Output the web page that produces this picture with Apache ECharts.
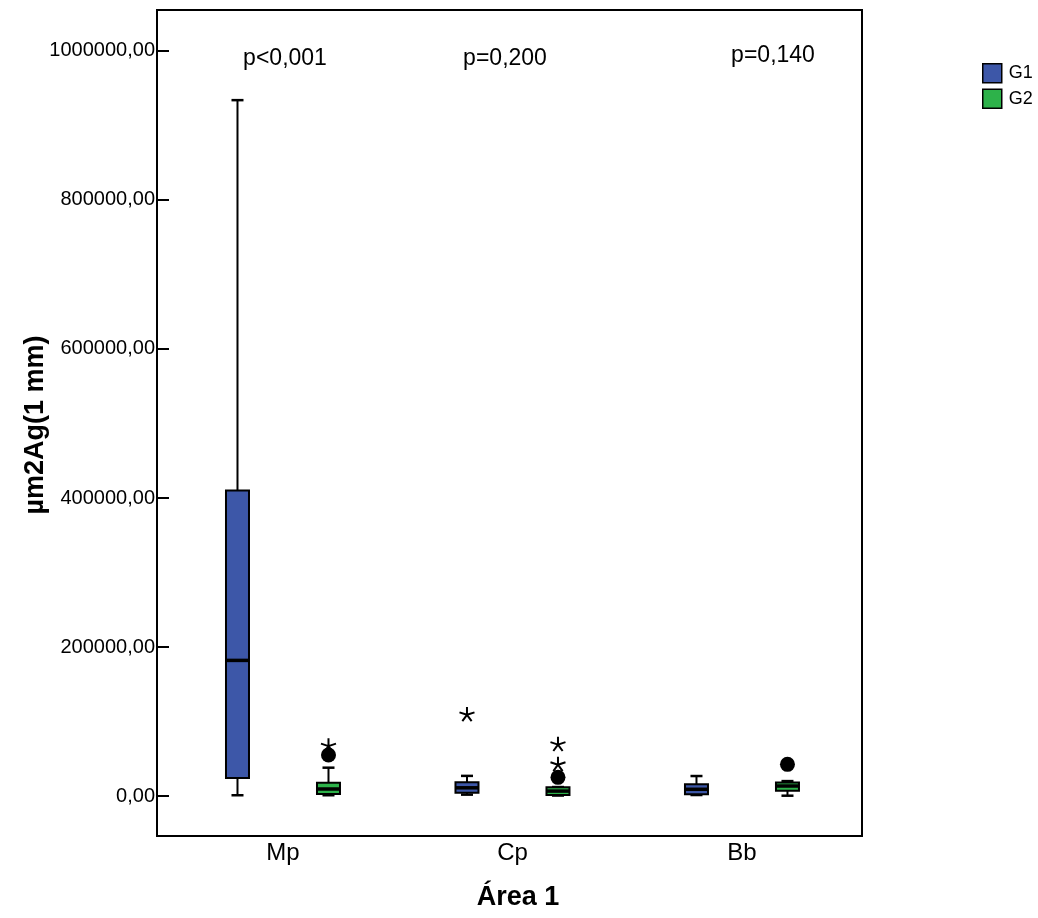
<!DOCTYPE html>
<html>
<head>
<meta charset="utf-8">
<script src="https://cdn.jsdelivr.net/npm/echarts@6/dist/echarts.min.js"></script>
<style>
  html, body { margin: 0; padding: 0; background: #fff; }
  #chart { width: 1038px; height: 918px; }
</style>
</head>
<body>
<div id="chart"></div>
<script>
// Areas on the horizontal axis
const categories = ['Mp', 'Cp', 'Bb'];
const groupNames = ['G1', 'G2'];

// Five-number summaries per area: [min, Q1, median, Q3, max]
const g1Boxes = [
  [1000, 24000, 182000, 410000, 934000],
  [1800, 4400, 11000, 18400, 27000],
  [1300, 2300, 9000, 15700, 26800]
];
const g2Boxes = [
  [1000, 2700, 9400, 17800, 38000],
  [600, 1300, 6600, 11700, 12000],
  [400, 7100, 13400, 18100, 20000]
];

// Outliers: [area index, value]
const g1Circles = [];
const g1Stars = [[1, 110000]];
const g2Circles = [[0, 55000], [1, 25000], [2, 42500]];
const g2Stars = [[0, 68000], [1, 43000], [1, 70000]];

// Significance per area
const pValues = ['p<0,001', 'p=0,200', 'p=0,140'];

// Y tick values
const yTicks = [0, 200000, 400000, 600000, 800000, 1000000];

const BLUE = '#3D57A8';
const GREEN = '#2DB24A';
const GROUP_OFFSET = 45.5;  // px from area centre to each group's box
const BOX_W = 23;
const CAP_W = 12;
const FONT = 'Arial, "Liberation Sans", sans-serif';

const STAR = 'path://M0,-10L0,0M0,0L9.51,-3.09M0,0L5.88,8.09M0,0L-5.88,8.09M0,0L-9.51,-3.09';

function boxRenderer(sign, color) {
  return function (params, api) {
    const i = api.value(0);
    const pt = k => api.coord([i, api.value(k)]);
    const x = pt(1)[0] + sign * GROUP_OFFSET;
    const yMin = pt(1)[1], yQ1 = pt(2)[1], yMed = pt(3)[1], yQ3 = pt(4)[1], yMax = pt(5)[1];
    const line = { stroke: '#000', lineWidth: 2 };
    return {
      type: 'group',
      children: [
        { type: 'line', shape: { x1: x, y1: yMin, x2: x, y2: yQ1 }, style: line },
        { type: 'line', shape: { x1: x, y1: yQ3, x2: x, y2: yMax }, style: line },
        { type: 'line', shape: { x1: x - CAP_W / 2, y1: yMin, x2: x + CAP_W / 2, y2: yMin }, style: { stroke: '#000', lineWidth: 2.5 } },
        { type: 'line', shape: { x1: x - CAP_W / 2, y1: yMax, x2: x + CAP_W / 2, y2: yMax }, style: { stroke: '#000', lineWidth: 2.5 } },
        { type: 'rect', shape: { x: x - BOX_W / 2, y: yQ3, width: BOX_W, height: yQ1 - yQ3 },
          style: { fill: color, stroke: '#000', lineWidth: 2 } },
        { type: 'line', shape: { x1: x - BOX_W / 2, y1: yMed, x2: x + BOX_W / 2, y2: yMed },
          style: { stroke: '#000', lineWidth: 3.5 } }
      ]
    };
  };
}

const withIndex = boxes => boxes.map((b, i) => [i].concat(b));

function outlierSeries(data, sign, symbol, size, isStar) {
  return {
    type: 'scatter',
    name: 'outlier',
    data: data,
    symbol: symbol,
    symbolSize: size,
    symbolKeepAspect: true,
    symbolOffset: [sign * GROUP_OFFSET, 0],
    itemStyle: isStar
      ? { color: 'rgba(0,0,0,0)', borderColor: '#000', borderWidth: 2, opacity: 1 }
      : { color: '#000', opacity: 1 },
    silent: true,
    z: 5
  };
}

const chart = echarts.init(document.getElementById('chart'), null, { renderer: 'canvas' });

chart.setOption({
  animation: false,
  backgroundColor: '#fff',
  grid: {
    left: 157, top: 10, right: 176, bottom: 82,
    show: true, borderColor: '#000', borderWidth: 2, backgroundColor: 'transparent'
  },
  legend: {
    orient: 'vertical',
    left: 982, top: 63,
    padding: 0,
    itemWidth: 19, itemHeight: 19, itemGap: 5,
    icon: 'rect',
    textStyle: { fontSize: 18, color: '#000', fontFamily: FONT, padding: [0, 0, 0, 2] },
    data: [
      { name: groupNames[0], itemStyle: { color: BLUE, borderColor: '#000', borderWidth: 1.5 } },
      { name: groupNames[1], itemStyle: { color: GREEN, borderColor: '#000', borderWidth: 1.5 } }
    ]
  },
  xAxis: {
    type: 'value',
    min: -0.549, max: 2.523,
    axisLine: { show: false, onZero: false },
    axisTick: { show: false },
    splitLine: { show: false },
    axisLabel: {
      customValues: [0, 1, 2],
      formatter: v => categories[Math.round(v)],
      fontSize: 24, color: '#000', fontFamily: FONT, margin: 5
    }
  },
  yAxis: {
    type: 'value',
    min: -53700, max: 1055000,
    axisLine: { show: true, onZero: false, lineStyle: { color: '#000', width: 2 } },
    axisTick: { show: true, inside: true, length: 12, customValues: yTicks, lineStyle: { color: '#000', width: 2 } },
    splitLine: { show: false },
    axisLabel: {
      customValues: yTicks,
      formatter: v => v.toFixed(2).replace('.', ','),
      fontSize: 20, color: '#000', fontFamily: FONT, margin: 2
    }
  },
  graphic: [
    { type: 'text', x: 285, y: 59, style: { text: pValues[0], font: '23px ' + FONT, fill: '#000', textAlign: 'center', textVerticalAlign: 'middle' } },
    { type: 'text', x: 505, y: 59, style: { text: pValues[1], font: '23px ' + FONT, fill: '#000', textAlign: 'center', textVerticalAlign: 'middle' } },
    { type: 'text', x: 773, y: 56, style: { text: pValues[2], font: '23px ' + FONT, fill: '#000', textAlign: 'center', textVerticalAlign: 'middle' } },
    { type: 'text', x: 518, y: 898, style: { text: 'Área 1', font: 'bold 27px ' + FONT, fill: '#000', textAlign: 'center', textVerticalAlign: 'middle' } },
    { type: 'text', x: 36, y: 425, rotation: Math.PI / 2, style: { text: 'µm2Ag(1 mm)', font: 'bold 27px ' + FONT, fill: '#000', textAlign: 'center', textVerticalAlign: 'middle' } }
  ],
  series: [
    {
      type: 'custom', name: groupNames[0],
      itemStyle: { color: BLUE },
      renderItem: boxRenderer(-1, BLUE),
      encode: { x: 0, y: [1, 2, 3, 4, 5] },
      data: withIndex(g1Boxes), z: 3
    },
    {
      type: 'custom', name: groupNames[1],
      itemStyle: { color: GREEN },
      renderItem: boxRenderer(1, GREEN),
      encode: { x: 0, y: [1, 2, 3, 4, 5] },
      data: withIndex(g2Boxes), z: 3
    },
    outlierSeries(g1Circles, -1, 'circle', 15, false),
    outlierSeries(g1Stars, -1, STAR, 15, true),
    outlierSeries(g2Circles, 1, 'circle', 15, false),
    outlierSeries(g2Stars, 1, STAR, 15, true)
  ]
});
</script>
</body>
</html>
